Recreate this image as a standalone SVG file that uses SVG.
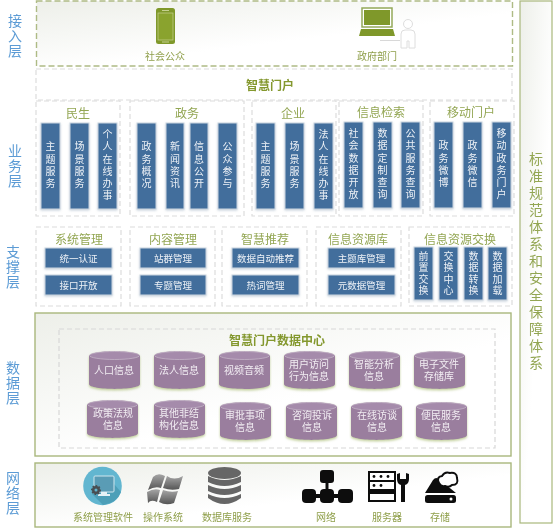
<svg xmlns="http://www.w3.org/2000/svg" width="554" height="528" viewBox="0 0 554 528">
<style>
text,tspan{font-family:"Noto Sans CJK SC","Liberation Sans",sans-serif;text-anchor:middle;dominant-baseline:central}
.layer{font-size:14px;fill:#5b9bd5;writing-mode:vertical-rl;letter-spacing:.6px}
.title{font-size:12px;fill:#93a653}
.big{font-size:12px;font-weight:700;fill:#84982f}
.cap{font-size:10px;fill:#8f9f4a}
.side{font-size:14px;fill:#93a653;writing-mode:vertical-rl;letter-spacing:3px}
.vb{font-size:10px;fill:#eef2f7;writing-mode:vertical-rl;letter-spacing:2.2px}
.vs{font-size:10px;fill:#eef2f7;writing-mode:vertical-rl;letter-spacing:1.5px}
.hb{font-size:9.5px;fill:#eef2f7}
.ct{font-size:10px;fill:#f2edf3}
.bar{fill:#426e9c;stroke:#ccd6e0;stroke-width:1;filter:url(#sh)}
.gd{fill:#fff;stroke:#dcdcdc;stroke-width:1.2;stroke-dasharray:5 3}
.gp{fill:url(#pg);stroke:#a9b77c;stroke-width:1.4}
.cyl{filter:url(#csh)}
</style>
<defs>
<linearGradient id="pg" x1="0" y1="0" x2="0.55" y2="0.6"><stop offset="0" stop-color="#edefe9"/><stop offset="1" stop-color="#fff"/></linearGradient>
<linearGradient id="fl" x1="0" y1="0" x2="0" y2="1"><stop offset="0" stop-color="#a5a5a5"/><stop offset="1" stop-color="#555"/></linearGradient>
<filter id="sh" x="-20%" y="-20%" width="140%" height="140%"><feDropShadow dx="0" dy="1" stdDeviation="1" flood-color="#8fa3b8" flood-opacity=".5"/></filter>
<filter id="csh" x="-20%" y="-20%" width="140%" height="140%"><feDropShadow dx="0" dy="1.5" stdDeviation="1" flood-color="#a8bb70" flood-opacity=".7"/></filter>
<filter id="soft" filterUnits="userSpaceOnUse" x="0" y="0" width="554" height="528"><feGaussianBlur stdDeviation="0.35"/></filter>
<g id="cyl" class="cyl"><path d="M0 5C0-1.500 51-1.500 51 5V33C51 39.500 0 39.500 0 33Z" fill="#9a7e9e"/><ellipse cx="25.500" cy="4.500" rx="25" ry="4" fill="#a58bab" stroke="#c9bacb" stroke-width=".7"/></g>
</defs>
<rect width="554" height="528" fill="#fff"/>
<g id="diagram" filter="url(#soft)">
<g id="access-layer">
<rect x="36.500" y="1" width="476" height="65" fill="url(#pg)" stroke="#aebb85" stroke-width="1.400" stroke-dasharray="6 3"/>
<text class="layer" x="15" y="36">接入层</text>
<g id="phone"><rect x="156" y="8" width="19" height="36" rx="2.500" fill="#7f982a"/><rect x="158" y="13" width="15" height="27" fill="#8aa32f" stroke="#c5d08f" stroke-width=".7"/><rect x="162" y="10" width="7" height="1" fill="#c5d08f"/><rect x="162" y="41.500" width="7" height="1" fill="#c5d08f"/></g>
<text class="cap" x="165" y="55">社会公众</text>
<g id="laptop"><rect x="362" y="8" width="30" height="19" fill="#fff" stroke="#94a95a" stroke-width="1.500"/><rect x="364" y="10" width="26" height="15" fill="#7f982a"/><path d="M361 29H393L395 36H359Z" fill="#7f982a"/><rect x="380" y="40" width="20" height="1" fill="#d8d8d8"/></g>
<g id="person"><circle cx="408" cy="24" r="4.500" fill="#fff" stroke="#dedede"/><path d="M401 48V34Q401 30 405 30H411Q415 30 415 34V48H409V41H407V48Z" fill="#fff" stroke="#dedede"/></g>
<text class="cap" x="377" y="55">政府部门</text>
</g>

<g id="portal">
<rect x="36" y="69" width="476" height="31" class="gd"/>
<text class="big" x="270" y="84">智慧门户</text>
<text class="layer" x="15" y="166">业务层</text>
</g>

<g id="biz-minsheng">
<rect x="36" y="101" width="84" height="115" class="gd"/><text class="title" x="78" y="112">民生</text>
<rect class="bar" x="41" y="123" width="19" height="86"/><text class="vb" x="50.500" y="166">主题服务</text>
<rect class="bar" x="70" y="123" width="19" height="86"/><text class="vb" x="79.500" y="166">场景服务</text>
<rect class="bar" x="98" y="123" width="19" height="86"/><text class="vb" x="107.500" y="166">个人在线办事</text>
</g>
<g id="biz-zhengwu">
<rect x="130" y="101" width="114" height="115" class="gd"/><text class="title" x="187" y="112">政务</text>
<rect class="bar" x="137" y="123" width="19" height="86"/><text class="vb" x="146.500" y="166">政务概况</text>
<rect class="bar" x="166" y="123" width="18" height="86"/><text class="vb" x="175" y="166">新闻资讯</text>
<rect class="bar" x="190" y="123" width="18" height="86"/><text class="vb" x="199" y="166">信息公开</text>
<rect class="bar" x="218" y="123" width="19" height="86"/><text class="vb" x="227.500" y="166">公众参与</text>
</g>
<g id="biz-qiye">
<rect x="252" y="101" width="84" height="115" class="gd"/><text class="title" x="293" y="112">企业</text>
<rect class="bar" x="256" y="123" width="19" height="86"/><text class="vb" x="265.500" y="166">主题服务</text>
<rect class="bar" x="285" y="123" width="19" height="86"/><text class="vb" x="294.500" y="166">场景服务</text>
<rect class="bar" x="314" y="123" width="19" height="86"/><text class="vb" x="323.500" y="166">法人在线办事</text>
</g>
<g id="biz-search">
<rect x="339" y="101" width="84" height="115" class="gd"/><text class="title" x="381" y="111">信息检索</text>
<rect class="bar" x="344" y="122" width="19" height="86"/><text class="vb" x="353.500" y="165">社会数据开放</text>
<rect class="bar" x="373" y="122" width="19" height="86"/><text class="vb" x="382.500" y="165">数据定制查询</text>
<rect class="bar" x="401" y="122" width="19" height="86"/><text class="vb" x="410.500" y="165">公共服务查询</text>
</g>
<g id="biz-mobile">
<rect x="430" y="101" width="84" height="115" class="gd"/><text class="title" x="471" y="111">移动门户</text>
<rect class="bar" x="434" y="122" width="19" height="86"/><text class="vb" x="443.500" y="165">政务微博</text>
<rect class="bar" x="463" y="122" width="19" height="86"/><text class="vb" x="472.500" y="165">政务微信</text>
<rect class="bar" x="492" y="122" width="19" height="86"/><text class="vb" x="501.500" y="165">移动政务门户</text>
</g>

<g id="support-label"><text class="layer" x="13" y="267">支撑层</text></g>
<g id="sup-system">
<rect x="36" y="227" width="85" height="79" class="gd"/><text class="title" x="79" y="238">系统管理</text>
<rect class="bar" x="45" y="248" width="67" height="20"/><text class="hb" x="78.500" y="258">统一认证</text>
<rect class="bar" x="45" y="275" width="67" height="20"/><text class="hb" x="78.500" y="285">接口开放</text>
</g>
<g id="sup-content">
<rect x="130" y="227" width="85" height="79" class="gd"/><text class="title" x="173" y="238">内容管理</text>
<rect class="bar" x="140" y="248" width="66" height="20"/><text class="hb" x="173" y="258">站群管理</text>
<rect class="bar" x="140" y="275" width="66" height="20"/><text class="hb" x="173" y="285">专题管理</text>
</g>
<g id="sup-recommend">
<rect x="222" y="227" width="85" height="79" class="gd"/><text class="title" x="265" y="238">智慧推荐</text>
<rect class="bar" x="232" y="248" width="67" height="20"/><text class="hb" x="265.500" y="258">数据自动推荐</text>
<rect class="bar" x="232" y="275" width="67" height="20"/><text class="hb" x="265.500" y="285">热词管理</text>
</g>
<g id="sup-library">
<rect x="316" y="227" width="85" height="79" class="gd"/><text class="title" x="358" y="238">信息资源库</text>
<rect class="bar" x="328" y="248" width="67" height="20"/><text class="hb" x="361.500" y="258">主题库管理</text>
<rect class="bar" x="328" y="275" width="67" height="20"/><text class="hb" x="361.500" y="285">元数据管理</text>
</g>
<g id="sup-exchange">
<rect x="409" y="227" width="103" height="79" class="gd"/><text class="title" x="460" y="238">信息资源交换</text>
<rect class="bar" x="414" y="247" width="19" height="53"/><text class="vs" x="423.500" y="274">前置交换</text>
<rect class="bar" x="439" y="247" width="19" height="53"/><text class="vs" x="448.500" y="274">交换中心</text>
<rect class="bar" x="464" y="247" width="19" height="53"/><text class="vs" x="473.500" y="274">数据转换</text>
<rect class="bar" x="488" y="247" width="19" height="53"/><text class="vs" x="497.500" y="274">数据加载</text>
</g>

<g id="data-layer">
<rect x="35" y="313" width="476" height="143" class="gp"/>
<rect x="59" y="329" width="436" height="119" fill="none" stroke="#d8d8d8" stroke-width="1.200" stroke-dasharray="5 3"/>
<text class="layer" x="13" y="383">数据层</text>
<text class="big" x="277" y="339">智慧门户数据中心</text>
</g>
<g id="db-1"><use href="#cyl" x="89" y="351"/><text class="ct" x="114" y="369">人口信息</text></g>
<g id="db-2"><use href="#cyl" x="154" y="351"/><text class="ct" x="179" y="369">法人信息</text></g>
<g id="db-3"><use href="#cyl" x="219" y="351"/><text class="ct" x="244" y="369">视频音频</text></g>
<g id="db-4"><use href="#cyl" x="284" y="351"/><text class="ct"><tspan x="309" y="363">用户访问</tspan><tspan x="309" y="375">行为信息</tspan></text></g>
<g id="db-5"><use href="#cyl" x="349" y="351"/><text class="ct"><tspan x="374" y="363">智能分析</tspan><tspan x="374" y="375">信息</tspan></text></g>
<g id="db-6"><use href="#cyl" x="414" y="351"/><text class="ct"><tspan x="439" y="363">电子文件</tspan><tspan x="439" y="375">存储库</tspan></text></g>
<g id="db-7"><use href="#cyl" x="87" y="400"/><text class="ct"><tspan x="113" y="412">政策法规</tspan><tspan x="113" y="424">信息</tspan></text></g>
<g id="db-8"><use href="#cyl" x="154" y="400"/><text class="ct"><tspan x="179" y="412">其他非结</tspan><tspan x="179" y="424">构化信息</tspan></text></g>
<g id="db-9"><use href="#cyl" x="220" y="402"/><text class="ct"><tspan x="245" y="414">审批事项</tspan><tspan x="245" y="426">信息</tspan></text></g>
<g id="db-10"><use href="#cyl" x="286" y="402"/><text class="ct"><tspan x="312" y="414">咨询投诉</tspan><tspan x="312" y="426">信息</tspan></text></g>
<g id="db-11"><use href="#cyl" x="351" y="402"/><text class="ct"><tspan x="377" y="414">在线访谈</tspan><tspan x="377" y="426">信息</tspan></text></g>
<g id="db-12"><use href="#cyl" x="416" y="402"/><text class="ct"><tspan x="441" y="414">便民服务</tspan><tspan x="441" y="426">信息</tspan></text></g>

<g id="network-layer">
<rect x="35" y="463" width="476" height="64" class="gp"/>
<text class="layer" x="13" y="493">网络层</text>
</g>
<g id="net-mgmt">
<circle cx="102.500" cy="486" r="19.300" fill="#62b6d0"/>
<path d="M92 494L103 505Q117 503 121 492L114 484Z" fill="#4e9fb8"/>
<rect x="94" y="476" width="20" height="16" rx="1" fill="#5a9cb5" stroke="#cfe6ee"/>
<path d="M101 492H107V494H110V496H98V494H101Z" fill="#e6f2f6"/>
<circle cx="96" cy="490" r="4" fill="#4a4f52" stroke="#4a4f52" stroke-width="2" stroke-dasharray="1.500 1.500"/><circle cx="96" cy="490" r="1.500" fill="#62b6d0"/>
<text class="cap" x="103" y="516">系统管理软件</text>
</g>
<g id="net-os">
<path d="M153 477Q158 472 165 476L161 488Q155 486 148 490Z" fill="url(#fl)"/>
<path d="M167 476Q174 481 183 476L179 489Q171 491 163 488Z" fill="url(#fl)"/>
<path d="M147 492Q154 488 160 490L157 502Q151 499 148 503Z" fill="url(#fl)"/>
<path d="M163 490Q171 493 178 491L174 503Q166 506 159 502Z" fill="url(#fl)"/>
<text class="cap" x="163" y="516">操作系统</text>
</g>
<g id="net-db">
<ellipse cx="224.500" cy="473" rx="16.500" ry="6" fill="#666"/>
<path d="M208 476Q224.500 484 241 476V482Q224.500 490 208 482Z" fill="#666"/>
<path d="M208 485Q224.500 493 241 485V491Q224.500 499 208 491Z" fill="#666"/>
<path d="M208 494Q224.500 502 241 494V498Q224.500 510 208 498Z" fill="#666"/>
<text class="cap" x="227" y="516">数据库服务</text>
</g>
<g id="net-network">
<rect x="320" y="470" width="14" height="13" rx="3" fill="#111"/>
<rect x="325.500" y="482" width="3" height="14" fill="#111"/>
<rect x="302" y="489" width="14" height="14" rx="4" fill="#111"/>
<rect x="320" y="489" width="14" height="14" rx="4" fill="#111"/>
<rect x="338" y="489" width="15" height="14" rx="4" fill="#111"/>
<rect x="314" y="494" width="26" height="4" fill="#111"/>
<text class="cap" x="326" y="516">网络</text>
</g>
<g id="net-server">
<rect x="368" y="471" width="28" height="31" fill="#111"/>
<rect x="370" y="473" width="24" height="7" fill="#fff"/>
<circle cx="374" cy="476.500" r="1.400" fill="#111"/><circle cx="381" cy="476.500" r="1.400" fill="#111"/><circle cx="388" cy="476.500" r="1.400" fill="#111"/>
<rect x="370" y="482" width="24" height="7" fill="#fff"/>
<circle cx="374" cy="485.500" r="1.400" fill="#111"/><circle cx="381" cy="485.500" r="1.400" fill="#111"/>
<rect x="370" y="494" width="24" height="6" fill="#fff"/>
<path d="M397 474V479Q397 484 401 485V502H405V485Q409 484 409 479V474L406 473V479H400V473Z" fill="#111"/>
<text class="cap" x="387" y="516">服务器</text>
</g>
<g id="net-storage">
<path d="M425 493L433 480Q436 476 440 480L456 493Z" fill="#111"/>
<rect x="425" y="495" width="31" height="8" rx="2.500" fill="#111"/>
<circle cx="451" cy="499" r="1.500" fill="#fff"/>
<path d="M439 483Q436 477 442 476Q445 471 450 473Q457 472 457 478Q459 485 452 485Q449 488 445 486Q441 487 439 483Z" fill="#fff" stroke="#111" stroke-width="2"/>
<text class="cap" x="440" y="516">存储</text>
</g>

<g id="standards">
<rect x="520" y="1" width="32" height="522" fill="url(#pg)" stroke="#a9b77c" stroke-width="1.200"/>
<text class="side" x="536" y="262">标准规范体系和安全保障体系</text>
</g>
</g>
</svg>
